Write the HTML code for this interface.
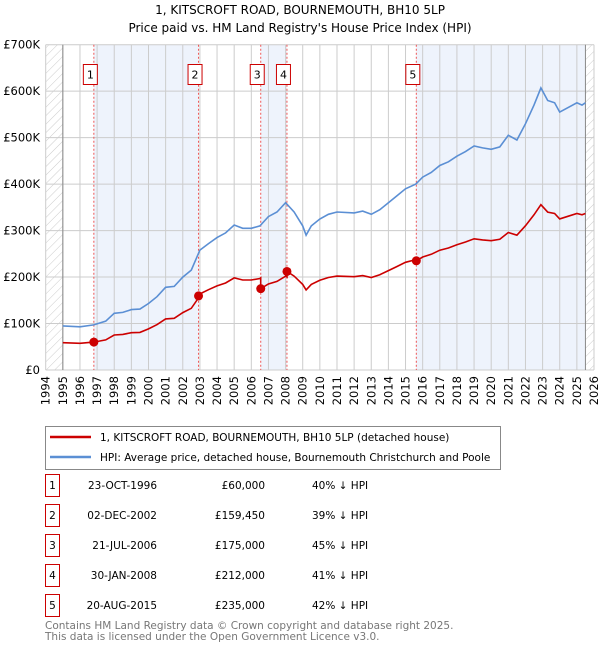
<!DOCTYPE html>
<html><head><meta charset="utf-8"><style>
body{margin:0;background:#fff;font-family:"DejaVu Sans","Liberation Sans",sans-serif;}
svg text{font-family:"DejaVu Sans","Liberation Sans",sans-serif;}
</style></head><body>
<svg id="c" width="600" height="650" viewBox="0 0 600 650" xmlns="http://www.w3.org/2000/svg">
<defs><pattern id="hatch" width="6" height="6" patternUnits="userSpaceOnUse" patternTransform="rotate(45)"><line x1="0" y1="0" x2="0" y2="6" stroke="#ccc" stroke-width="1"/></pattern></defs>
<text x="300" y="14" text-anchor="middle" font-size="12">1, KITSCROFT ROAD, BOURNEMOUTH, BH10 5LP</text>
<text x="300" y="32" text-anchor="middle" font-size="12">Price paid vs. HM Land Registry's House Price Index (HPI)</text>
<g id="plot"></g>
<g>
<rect x="45.5" y="426.5" width="455" height="43" fill="#fff" stroke="#888"/>
<line x1="50" y1="437" x2="91" y2="437" stroke="#cc0000" stroke-width="2.5"/>
<text x="100" y="441" font-size="10.5">1, KITSCROFT ROAD, BOURNEMOUTH, BH10 5LP (detached house)</text>
<line x1="50" y1="457" x2="91" y2="457" stroke="#5b8fd4" stroke-width="2.5"/>
<text x="100" y="461" font-size="10.5">HPI: Average price, detached house, Bournemouth Christchurch and Poole</text>
</g>
<g id="table"></g>
<text x="45" y="629" font-size="10.5" fill="#777">Contains HM Land Registry data © Crown copyright and database right 2025.</text>
<text x="45" y="640" font-size="10.5" fill="#777">This data is licensed under the Open Government Licence v3.0.</text>
</svg>
<script>
const hpiYears=[1995,1996,1996.8,1997.5,1998,1998.5,1999,1999.5,2000,2000.5,2001,2001.5,2002,2002.5,2003,2003.5,2004,2004.5,2005,2005.5,2006,2006.5,2007,2007.5,2008,2008.5,2009,2009.2,2009.5,2010,2010.5,2011,2012,2012.5,2013,2013.5,2014,2014.5,2015,2015.6,2016,2016.5,2017,2017.5,2018,2018.5,2019,2019.5,2020,2020.5,2021,2021.5,2022,2022.5,2022.9,2023.3,2023.7,2024,2024.5,2025,2025.3,2025.5];
const hpiValues=[95,93,97,105,122,124,130,131,143,158,178,180,200,215,258,272,285,295,312,305,305,310,330,340,360,340,310,290,310,325,335,340,338,342,335,345,360,375,390,400,415,425,440,448,460,470,482,478,475,480,505,495,530,570,607,580,575,555,565,575,570,575];
const saleLabels=["1","2","3","4","5"];
const saleDates=[1996.81,2002.92,2006.55,2008.08,2015.63];
const saleDateText=["23-OCT-1996","02-DEC-2002","21-JUL-2006","30-JAN-2008","20-AUG-2015"];
const salePrices=[60000,159450,175000,212000,235000];
const salePriceText=["£60,000","£159,450","£175,000","£212,000","£235,000"];
const saleDiffText=["40% ↓ HPI","39% ↓ HPI","45% ↓ HPI","41% ↓ HPI","42% ↓ HPI"];
const yTicks=[0,100,200,300,400,500,600,700];
const yTickLabels=["£0","£100K","£200K","£300K","£400K","£500K","£600K","£700K"];
const xTicks=[1994,1995,1996,1997,1998,1999,2000,2001,2002,2003,2004,2005,2006,2007,2008,2009,2010,2011,2012,2013,2014,2015,2016,2017,2018,2019,2020,2021,2022,2023,2024,2025,2026];

const NS="http://www.w3.org/2000/svg";
const X0=45.7,X1=594,Y0=370,Y1=44.7;
const xs=t=>X0+(t-1994)/32*(X1-X0);
const ys=v=>Y0-v/700*(Y0-Y1);
const plot=document.getElementById('plot');
function mk(tag,at,parent){const e=document.createElementNS(NS,tag);for(const k in at)e.setAttribute(k,at[k]);(parent||plot).appendChild(e);return e;}
function hpiAt(t){if(t<=hpiYears[0])return hpiValues[0];for(let i=1;i<hpiYears.length;i++){if(t<=hpiYears[i]){const f=(t-hpiYears[i-1])/(hpiYears[i]-hpiYears[i-1]);return hpiValues[i-1]+f*(hpiValues[i]-hpiValues[i-1]);}}return hpiValues[hpiValues.length-1];}
const endT=hpiYears[hpiYears.length-1];
// hatched
let e=mk('rect',{x:xs(1994),y:Y1,width:xs(1995)-xs(1994),height:Y0-Y1,fill:'url(#hatch)'});

e=mk('rect',{x:xs(endT),y:Y1,width:X1-xs(endT),height:Y0-Y1,fill:'url(#hatch)'});

// shaded bands
[[0,1],[2,3],[4,-1]].forEach((p,i)=>{const a=xs(saleDates[p[0]]),b=p[1]<0?xs(endT):xs(saleDates[p[1]]);
 const r=mk('rect',{x:a,y:Y1,width:b-a,height:Y0-Y1,fill:'#eef3fc'});
 });
// grid
xTicks.forEach((t,i)=>{const g=mk('line',{x1:xs(t),x2:xs(t),y1:Y1,y2:Y0,stroke:'#ccc','stroke-width':1});
 
 const tx=mk('text',{x:0,y:0,'font-size':11.5,'text-anchor':'end',transform:`translate(${xs(t)+4},${Y0+6}) rotate(-90)`});
 tx.textContent=t;});
yTicks.forEach((v,i)=>{const g=mk('line',{x1:X0,x2:X1,y1:ys(v),y2:ys(v),stroke:'#ccc','stroke-width':1});
 
 const tx=mk('text',{x:40,y:ys(v)+4,'font-size':11.5,'text-anchor':'end'});
 tx.textContent=yTickLabels[i];});
e=mk('line',{x1:xs(1995),x2:xs(1995),y1:Y1,y2:Y0,stroke:'#888'});
e=mk('line',{x1:xs(endT),x2:xs(endT),y1:Y1,y2:Y0,stroke:'#888'});
// sale vlines
saleDates.forEach((d,i)=>{const l=mk('line',{x1:xs(d),x2:xs(d),y1:Y1,y2:Y0,stroke:'#e55','stroke-width':1,'stroke-dasharray':'2,2'});
 
 const bx=mk('rect',{x:xs(d)-10.5,y:64.5,width:14,height:20,fill:'#fff',stroke:'#cc0000'});
 
 const t=mk('text',{x:xs(d)-3.5,y:78.5,'font-size':11,'text-anchor':'middle'});t.textContent=saleLabels[i];
 });
// hpi line
const hp=hpiYears.map((t,i)=>xs(t).toFixed(1)+','+ys(hpiValues[i]).toFixed(1)).join(' ');
e=mk('polyline',{points:hp,fill:'none',stroke:'#5b8fd4','stroke-width':1.6});

// property line: HPI scaled by ratio at most recent sale
const ratios=saleDates.map((d,i)=>salePrices[i]/1000/hpiAt(d));
const pts=[];
function ratioFor(t){let r=ratios[0];for(let i=0;i<saleDates.length;i++)if(t>=saleDates[i])r=ratios[i];return r;}
const times=hpiYears.concat(saleDates).sort((a,b)=>a-b);
times.forEach(t=>{const idx=saleDates.indexOf(t);
 if(idx>0){pts.push([t,hpiAt(t)*ratios[idx-1]]);}
 pts.push([t,hpiAt(t)*ratioFor(t)]);});
e=mk('polyline',{points:pts.map(p=>xs(p[0]).toFixed(1)+','+ys(p[1]).toFixed(1)).join(' '),fill:'none',stroke:'#cc0000','stroke-width':1.6});

saleDates.forEach((d,i)=>{const c=mk('circle',{cx:xs(d),cy:ys(salePrices[i]/1000),r:4.5,fill:'#cc0000'});
 });
// table
const tb=document.getElementById('table');
saleLabels.forEach((s,i)=>{const y=484+i*30;
 const r=mk('rect',{x:45.5,y:y-9.5,width:14,height:22,fill:'#fff',stroke:'#cc0000'},tb);
 
 const cells=[[52.5,s,'middle'],[157,saleDateText[i],'end'],[265,salePrices?salePriceText[i]:'','end'],[312,saleDiffText[i],'start']];
 const names=['table-sale-number','table-sale-date','table-sale-price','table-sale-hpi-diff'];
 cells.forEach((c,j)=>{const t=mk('text',{x:c[0],y:y+5,'font-size':10.5,'text-anchor':c[2]},tb);t.textContent=c[1];
  });});
</script>
</body></html>
